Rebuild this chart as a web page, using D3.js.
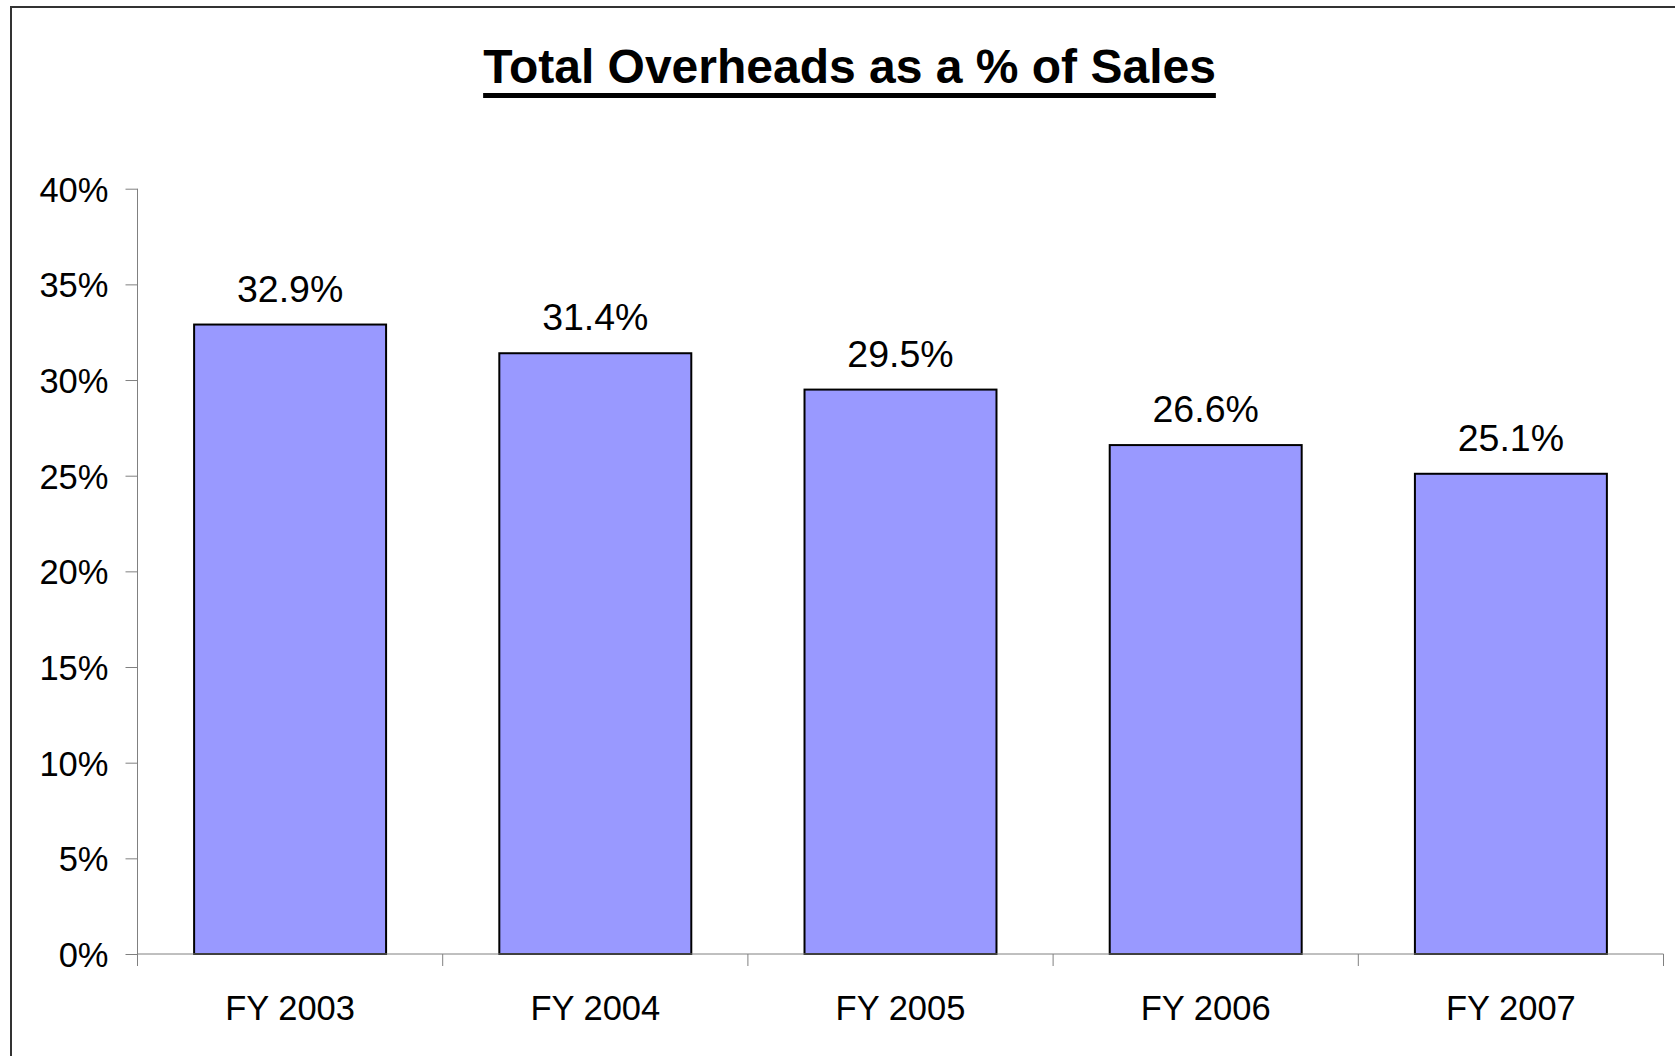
<!DOCTYPE html>
<html>
<head>
<meta charset="utf-8">
<script src="https://cdn.jsdelivr.net/npm/d3@7"></script>
<style>
  html, body { margin: 0; padding: 0; background: #fff; }
  svg { display: block; }
</style>
</head>
<body>
<script>
const categories = ["FY 2003", "FY 2004", "FY 2005", "FY 2006", "FY 2007"];
const values = [32.9, 31.4, 29.5, 26.6, 25.1];
const yTicks = [0, 5, 10, 15, 20, 25, 30, 35, 40];
const title = "Total Overheads as a % of Sales";

(function () {
const W = 1675, H = 1056;
const svg = d3.select("body").append("svg").attr("width", W).attr("height", H);
const font = "'Liberation Sans', Arial, Helvetica, sans-serif";

// outer frame
svg.append("rect").attr("x", 11).attr("y", 7).attr("width", W + 20).attr("height", H + 20)
  .attr("fill", "#fff").attr("stroke", "#333").attr("stroke-width", 2);

const pLeft = 137.5, pRight = 1663.5, pTop = 188.7, pBottom = 954;

const x = d3.scaleBand().domain(categories).range([pLeft, pRight]).paddingInner(0.371).paddingOuter(0.1855);
const y = d3.scaleLinear().domain([0, 40]).range([pBottom, pTop]);

// bars
svg.append("g").selectAll("rect").data(values).join("rect")
  .attr("x", (d, i) => x(categories[i]))
  .attr("y", d => y(d))
  .attr("width", x.bandwidth())
  .attr("height", d => y(0) - y(d))
  .attr("fill", "#9999FF")
  .attr("stroke", "#000")
  .attr("stroke-width", 2);

// y axis
const yAxis = svg.append("g").attr("transform", `translate(${pLeft},0)`)
  .call(d3.axisLeft(y).tickValues(yTicks).tickSize(12).tickPadding(17).tickFormat(d => d + "%"));
yAxis.select(".domain").attr("stroke", "#808080").attr("d", `M0,${pTop}H0V${pBottom}`);
yAxis.selectAll(".tick line").attr("stroke", "#808080");
yAxis.selectAll("text").attr("font-family", font).attr("font-size", 34.5).attr("fill", "#000").attr("dy", "0.36em");

// x axis
const xAxisG = svg.append("g").attr("transform", `translate(0,${pBottom})`);
xAxisG.append("line").attr("x1", pLeft).attr("x2", pRight).attr("y1", 0).attr("y2", 0)
  .attr("stroke", "#808080").attr("stroke-width", 1);
const bounds = d3.range(categories.length + 1).map(i => pLeft + i * (pRight - pLeft) / categories.length);
xAxisG.selectAll("line.tk").data(bounds).join("line").attr("class", "tk")
  .attr("x1", d => d).attr("x2", d => d).attr("y1", 0).attr("y2", 12)
  .attr("stroke", "#808080").attr("stroke-width", 1);
xAxisG.selectAll("text").data(categories).join("text")
  .attr("x", d => x(d) + x.bandwidth() / 2)
  .attr("y", 66)
  .attr("text-anchor", "middle")
  .attr("font-family", font).attr("font-size", 34.5).attr("fill", "#000")
  .text(d => d);

// value labels
svg.append("g").selectAll("text").data(values).join("text")
  .attr("x", (d, i) => x(categories[i]) + x.bandwidth() / 2)
  .attr("y", d => y(d) - 23)
  .attr("text-anchor", "middle")
  .attr("font-family", font).attr("font-size", 37.5).attr("fill", "#000")
  .text(d => d.toFixed(1) + "%");

// title
const t = svg.append("text").attr("x", 849.5).attr("y", 83).attr("text-anchor", "middle")
  .attr("font-family", font).attr("font-size", 48).attr("font-weight", "bold").attr("fill", "#000")
  .text(title);
const bb = t.node().getBBox();
svg.append("rect").attr("x", bb.x).attr("y", 93).attr("width", bb.width).attr("height", 5).attr("fill", "#000");
})();
</script>
</body>
</html>
